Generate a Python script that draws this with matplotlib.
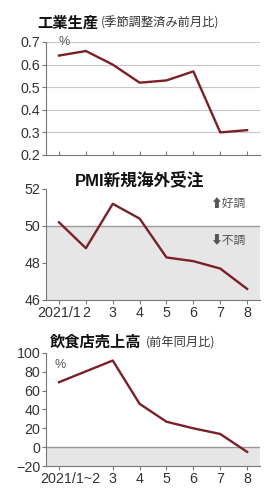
import matplotlib
matplotlib.use("Agg")
import matplotlib.pyplot as plt
from matplotlib.transforms import ScaledTranslation
from matplotlib import font_manager

names = {f.name for f in font_manager.fontManager.ttflist}
NUMFONT = 'Liberation Sans Narrow' if 'Liberation Sans Narrow' in names else 'Liberation Sans'
NUMSIZE = 11.5 if NUMFONT == 'Liberation Sans Narrow' else 10.3
plt.rcParams['font.family'] = [NUMFONT, 'Noto Sans CJK JP']

# data
months1 = [1, 2, 3, 4, 5, 6, 7, 8]
ind_prod = [0.64, 0.66, 0.60, 0.52, 0.53, 0.57, 0.30, 0.31]
pmi = [50.2, 48.8, 51.2, 50.4, 48.3, 48.1, 47.7, 46.6]
months3 = [1, 3, 4, 5, 6, 7, 8]
rest_sales = [69, 92, 46, 27, 20, 14, -5]
xlabels2 = ['2021/1', '2', '3', '4', '5', '6', '7', '8']
xlabels3 = ['2021/1~2', '3', '4', '5', '6', '7', '8']

W, H = 278, 498
fig = plt.figure(figsize=(W/100, H/100), dpi=100)
fig.patch.set_facecolor('white')

LINE = '#7b1f28'
GRID = '#c8c8c8'
SPINE = '#777777'
SHADE = '#e6e6e6'
TXT = '#333333'
cjk = ['Noto Sans CJK JP']

def ax_at(top, bottom):
    l, r = 46/W, 260/W
    return fig.add_axes([l, 1-bottom/H, r-l, (bottom-top)/H])

def style(ax):
    for s in ['top', 'right']:
        ax.spines[s].set_visible(False)
    ax.spines['left'].set_color(SPINE)
    ax.spines['bottom'].set_color(SPINE)
    ax.tick_params(axis='y', length=3, color=SPINE, labelsize=NUMSIZE, labelcolor=TXT, pad=1)
    ax.tick_params(axis='x', color=SPINE, labelsize=NUMSIZE, labelcolor=TXT)
    ax.set_xlim(0.516, 8.48)

# Panel 1
ax1 = ax_at(42, 155)
style(ax1)
ax1.set_ylim(0.2, 0.7)
ax1.set_yticks([0.2, 0.3, 0.4, 0.5, 0.6, 0.7])
ax1.set_yticklabels(['0.2', '0.3', '0.4', '0.5', '0.6', '0.7'])
for v in [0.3, 0.4, 0.5, 0.6, 0.7]:
    ax1.axhline(v, color=GRID, lw=0.8, zorder=1)
ax1.set_xticks(months1)
ax1.set_xticklabels([])
ax1.tick_params(axis='x', direction='in', length=3)
ax1.plot(months1, ind_prod, color=LINE, lw=1.7, zorder=3)
ax1.text(0.06, 1.0, '%', transform=ax1.transAxes, fontsize=9, color='#555555', va='center', ha='left')

fig.text(37/W, 1-23/H, '工業生産', family=cjk, fontsize=11, fontweight='bold', va='center', ha='left', color='#111111')
fig.text(101/W, 1-23/H, '(季節調整済み前月比)', family=cjk, fontsize=8.8, va='center', ha='left', color='#333333')

# Panel 2
ax2 = ax_at(189, 300)
style(ax2)
ax2.set_ylim(46, 52)
ax2.set_yticks([46, 48, 50, 52])
ax2.axhspan(46, 50, color=SHADE, zorder=0, lw=0)
ax2.axhline(50, color='#999999', lw=1.0, zorder=1)
ax2.set_xticks(months1)
ax2.set_xticklabels(xlabels2)
ax2.tick_params(axis='x', direction='out', length=3, pad=1)
ax2.plot(months1, pmi, color=LINE, lw=1.7, zorder=3)
ax2.text(0.93, 51.2, '⬆好調', family=['Noto Sans CJK JP', 'DejaVu Sans'], fontsize=8.5, color='#555555', va='center', ha='right',
         transform=ax2.get_yaxis_transform())
ax2.text(0.93, 49.2, '⬇不調', family=['Noto Sans CJK JP', 'DejaVu Sans'], fontsize=8.5, color='#555555', va='center', ha='right',
         transform=ax2.get_yaxis_transform())
fig.text(140/W, 1-180/H, 'PMI新規海外受注', family=['Liberation Sans', 'Noto Sans CJK JP'], fontsize=12, fontweight='bold',
         va='center', ha='center', color='#111111')

# Panel 3
ax3 = ax_at(353, 466)
style(ax3)
ax3.set_ylim(-20, 100)
ax3.set_yticks([-20, 0, 20, 40, 60, 80, 100])
ax3.axhspan(-20, 0, color=SHADE, zorder=0, lw=0)
ax3.axhline(0, color='#999999', lw=1.0, zorder=1)
ax3.set_xticks(months3)
ax3.set_xticklabels(xlabels3)
ax3.tick_params(axis='x', direction='out', length=3, pad=1)
lab = ax3.get_xticklabels()[0]
lab.set_transform(lab.get_transform() + ScaledTranslation(0.11, 0, fig.dpi_scale_trans))
ax3.plot(months3, rest_sales, color=LINE, lw=1.7, zorder=3)
ax3.text(0.04, 0.89, '%', transform=ax3.transAxes, fontsize=9, color='#555555', va='center', ha='left')

fig.text(50/W, 1-342/H, '飲食店売上高', family=cjk, fontsize=11, fontweight='bold', va='center', ha='left', color='#111111')
fig.text(146/W, 1-342/H, '(前年同月比)', family=cjk, fontsize=8.8, va='center', ha='left', color='#333333')

fig.savefig('out.png', dpi=100, facecolor='white')
